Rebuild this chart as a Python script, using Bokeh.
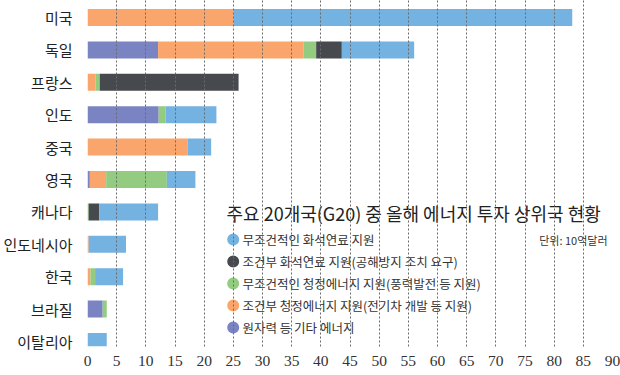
from bokeh.plotting import figure
from bokeh.models import Range1d, FixedTicker, ColumnDataSource
from bokeh.core.properties import value
from bokeh.embed import file_html
from bokeh.resources import INLINE

countries = ["미국", "독일", "프랑스", "인도", "중국", "영국", "캐나다", "인도네시아", "한국", "브라질", "이탈리아"]
other_energy   = [0.0, 12.1, 0.0, 12.2, 0.0, 0.4, 0.0, 0.0, 0.0, 2.6, 0.0]
cond_clean     = [25.0, 24.9, 1.4, 0.0, 17.2, 2.8, 0.0, 0.2, 0.5, 0.0, 0.0]
uncond_clean   = [0.0, 2.2, 0.7, 1.2, 0.0, 10.4, 0.2, 0.0, 0.8, 0.7, 0.0]
cond_fossil    = [0.0, 4.4, 23.8, 0.0, 0.0, 0.0, 1.8, 0.0, 0.0, 0.0, 0.0]
uncond_fossil  = [58.1, 12.4, 0.0, 8.7, 4.0, 4.9, 10.1, 6.4, 4.8, 0.0, 3.3]

series_keys = ["other_energy", "cond_clean", "uncond_clean", "cond_fossil", "uncond_fossil"]
series_colors = ["#7a84c3", "#f9a56b", "#93cb80", "#46494d", "#74b2e2"]

legend_labels = ["무조건적인 화석연료 지원", "조건부 화석연료 지원(공해방지 조치 요구)",
                 "무조건적인 청정에너지 지원(풍력발전 등 지원)", "조건부 청정에너지 지원(전기차 개발 등 지원)",
                 "원자력 등 기타 에너지"]
legend_colors = ["#74b2e2", "#46494d", "#93cb80", "#f9a56b", "#7a84c3"]
title_text = "주요 20개국(G20) 중 올해 에너지 투자 상위국 현황"
unit_text = "단위: 10억달러"
x_ticks = list(range(0, 95, 5))

KR = "Noto Sans CJK KR"

src = ColumnDataSource(dict(
    y=list(range(len(countries))),
    other_energy=other_energy, cond_clean=cond_clean, uncond_clean=uncond_clean,
    cond_fossil=cond_fossil, uncond_fossil=uncond_fossil,
))

FW, FH = 525, 346
p = figure(width=620, height=375, output_backend="svg", toolbar_location=None,
           x_range=Range1d(0, 90), y_range=Range1d(10.154, -0.525),
           min_border_left=87, min_border_right=8, min_border_top=0, min_border_bottom=29)
p.outline_line_color = None
p.background_fill_color = "white"

p.hbar_stack(series_keys, y="y", height=0.525, color=series_colors, line_color=None, source=src)

# axes
p.xaxis.ticker = FixedTicker(ticks=x_ticks)
p.xaxis.axis_line_color = None
p.xaxis.major_tick_line_color = None
p.xaxis.minor_tick_line_color = None
p.xaxis.major_label_text_font = "Liberation Sans Narrow"
p.xaxis.major_label_text_font_size = "15.5px"
p.xaxis.major_label_text_color = "#333333"
p.xaxis.major_label_standoff = 3

p.yaxis.ticker = FixedTicker(ticks=list(range(len(countries))))
p.yaxis.major_label_overrides = {i: c for i, c in enumerate(countries)}
p.yaxis.axis_line_color = None
p.yaxis.major_tick_line_color = None
p.yaxis.minor_tick_line_color = None
p.yaxis.major_label_text_font = KR
p.yaxis.major_label_text_font_size = "15px"
p.yaxis.major_label_text_color = "#222222"
p.yaxis.major_label_standoff = 9

p.ygrid.grid_line_color = None
p.xgrid.ticker = FixedTicker(ticks=x_ticks)
p.xgrid.grid_line_color = "#6a6a6a"
p.xgrid.grid_line_dash = "2 2"
p.xgrid.grid_line_width = 1
p.xgrid.level = "annotation"

# screen-pixel ranges (frame-relative) for the title/legend block
p.extra_x_ranges = {"px": Range1d(0, FW)}
p.extra_y_ranges = {"py": Range1d(FH, 0)}
OX = 87

p.text(x=[226 - OX], y=[212], text=[title_text], x_range_name="px", y_range_name="py",
       text_font=value(KR), text_font_size="18px", text_color="#222222",
       text_baseline="middle", text_align="left")
p.text(x=[607 - OX], y=[239], text=[unit_text], x_range_name="px", y_range_name="py",
       text_font=value(KR), text_font_size="11px", text_color="#333333",
       text_baseline="middle", text_align="right")

ly = [239 + 22 * i for i in range(len(legend_labels))]
p.scatter(x=[232.7 - OX] * len(ly), y=ly, size=12, marker="circle",
          color=legend_colors, line_color=None, x_range_name="px", y_range_name="py")
p.text(x=[242 - OX] * len(ly), y=ly, text=legend_labels, x_range_name="px", y_range_name="py",
       text_font=value(KR), text_font_size="12.5px", text_color="#333333",
       text_baseline="middle", text_align="left")

open("out.html", "w").write(file_html(p, INLINE))
